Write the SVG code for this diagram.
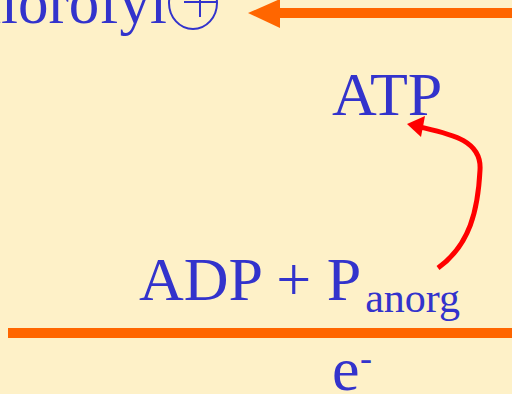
<svg xmlns="http://www.w3.org/2000/svg" width="512" height="394" viewBox="0 0 512 394">
<style>
.t{font-family:"Liberation Serif","Times New Roman",serif;fill:#3333CC;}
.or{stroke:#FF6600;fill:none;}
</style>
<rect width="512" height="394" fill="#FEF1C8"/>
<g id="chlorofyl">
<text class="t" x="167" y="23" font-size="61" text-anchor="end">Chlorofyl</text>
<ellipse cx="193" cy="3" rx="24" ry="26" fill="none" stroke="#3333CC" stroke-width="2"/>
<line x1="200" y1="-5" x2="200" y2="17" stroke="#3333CC" stroke-width="2"/>
<line x1="184" y1="2" x2="217" y2="2" stroke="#3333CC" stroke-width="2"/>
</g>
<g id="atp"><text class="t" x="332" y="115" font-size="62">ATP</text></g>
<g id="adp"><text class="t" x="139" y="300" font-size="62">ADP + P<tspan font-size="42" dx="4" dy="12">anorg</tspan></text></g>
<g id="eminus"><text class="t" x="332" y="390" font-size="62">e</text><text class="t" x="360" y="370" font-size="36">-</text></g>
<g id="connectors">
<line class="or" x1="512" y1="13" x2="276" y2="13" stroke-width="10"/>
<polygon points="248,13 280,-1 280,28" fill="#FF6600"/>
<line class="or" x1="8" y1="333" x2="512" y2="333" stroke-width="10"/>
<path d="M438,268 C470,245 478,210 480,170 C482,140 450,134 420,127" fill="none" stroke="#FF0000" stroke-width="5"/>
<polygon points="407,124 425,116 421,137" fill="#FF0000"/>
</g>
</svg>
